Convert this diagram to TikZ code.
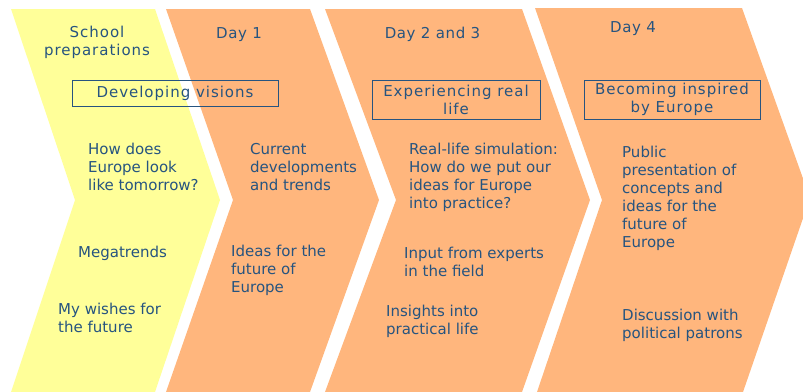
\documentclass[tikz,border=0pt]{standalone}
\usepackage{fontspec}
\setmainfont{DejaVu Sans}
\newfontfamily\spacedfont{DejaVu Sans}[LetterSpace=6.5]
\newfontfamily\dayfont{DejaVu Sans}[LetterSpace=4]
\definecolor{chevyellow}{RGB}{255,255,153}
\definecolor{chevorange}{RGB}{255,182,125}
\definecolor{txtblue}{RGB}{38,84,128}
\newcommand\fstrut{\rule{0pt}{13pt}}
\begin{document}
\begin{tikzpicture}[x=1pt,y=-1pt,
  yellowchev/.style={fill=chevyellow},
  orangechev/.style={fill=chevorange},
  bodytext/.style={anchor=north west, align=left, inner sep=0pt, text=txtblue,
    font=\fontsize{15}{18}\selectfont},
  titletext/.style={anchor=north, align=center, inner sep=0pt, text=txtblue,
    font=\spacedfont\fontsize{15}{18}\selectfont},
  daytext/.style={anchor=base, inner sep=0pt, text=txtblue,
    font=\dayfont\fontsize{15}{18}\selectfont},
  themebox/.style={draw=txtblue, line width=1pt, inner sep=0pt, align=center,
    text=txtblue, font=\spacedfont\fontsize{15}{18}\selectfont}]
\useasboundingbox (0,0) rectangle (803,391);
\clip (0,0) rectangle (803,391);
% chevrons
\fill[yellowchev] (11,9) -- (155,9) -- (220,200) -- (155,392) -- (11,392) -- (75,200) -- cycle;
\fill[orangechev] (166,9) -- (310,9) -- (379,200) -- (310,392) -- (166,392) -- (233,200) -- cycle;
\fill[orangechev] (325,9) -- (522,9) -- (590,200) -- (522,392) -- (325,392) -- (396,200) -- cycle;
\fill[orangechev] (535,8) -- (742,8) -- (810,198) -- (743,392) -- (537,392) -- (602,200) -- cycle;
% titles
\node[titletext] (school) at (97,24) {\fstrut School\\preparations};
\node[daytext] (day1) at (239,38) {Day 1};
\node[daytext] (day23) at (432.5,38) {Day 2 and 3};
\node[daytext] (day4) at (633,32) {Day 4};
% theme boxes
\node[themebox, minimum width=206pt, minimum height=26pt] (vis) at (175,93) {Developing visions};
\node[themebox, minimum width=168pt, minimum height=39pt] (real) at (456,99.5) {Experiencing real\\life};
\node[themebox, minimum width=176pt, minimum height=39pt] (insp) at (672,99.5) {Becoming inspired\\by Europe};
% column 1
\node[bodytext] (how) at (88,141) {\fstrut How does\\Europe look\\like tomorrow?};
\node[bodytext, anchor=base west] (mega) at (78,257) {Megatrends};
\node[bodytext] (wish) at (58,301) {\fstrut My wishes for\\the future};
% column 2
\node[bodytext] (curr) at (250,141) {\fstrut Current\\developments\\and trends};
\node[bodytext] (ideas) at (231,243) {\fstrut Ideas for the\\future of\\Europe};
% column 3
\node[bodytext] (sim) at (409,141) {\fstrut Real-life simulation:\\How do we put our\\ideas for Europe\\into practice?};
\node[bodytext] (input) at (404,245) {\fstrut Input from experts\\in the field};
\node[bodytext] (insight) at (386,303) {\fstrut Insights into\\practical life};
% column 4
\node[bodytext] (pub) at (622,144) {\fstrut Public\\presentation of\\concepts and\\ideas for the\\future of\\Europe};
\node[bodytext] (disc) at (622,307) {\fstrut Discussion with\\political patrons};
\end{tikzpicture}
\end{document}
